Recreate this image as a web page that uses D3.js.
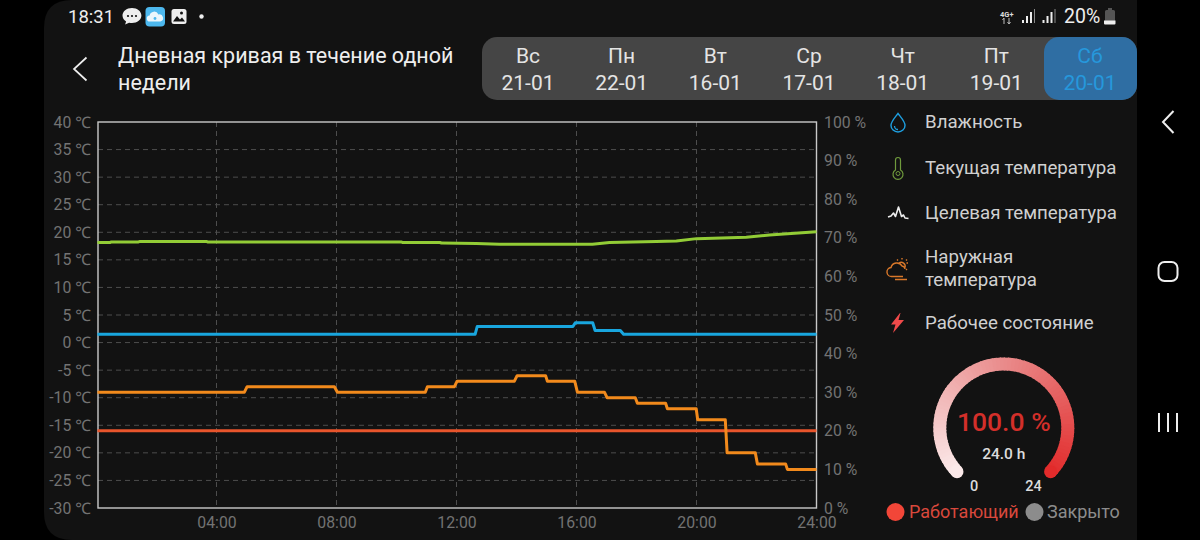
<!DOCTYPE html>
<html><head><meta charset="utf-8">
<script src="https://cdn.jsdelivr.net/npm/d3@7"></script>
<style>
html,body{margin:0;padding:0;background:#000;overflow:hidden}
svg{display:block;font-family:Roboto,sans-serif}
.tick text{font-family:Roboto,"Noto Sans",sans-serif}
</style></head><body><svg id="c" width="1200" height="540"></svg>
<script>
const tempTicks=[-30,-25,-20,-15,-10,-5,0,5,10,15,20,25,30,35,40];
const humidityTicks=[0,10,20,30,40,50,60,70,80,90,100];
const hourTicks=[4,8,12,16,20,24];
const currentHours=[0.03,0.45,0.5,1.4,1.45,3.66,3.7,10.17,10.2,11.45,11.5,12.66,13.43,16.53,17.1,18.66,19.33,20,21.66,22.43,24];
const currentTemps=[18.15,18.15,18.25,18.25,18.35,18.35,18.25,18.25,18.15,18.15,18.05,17.95,17.85,17.85,18.15,18.35,18.4,18.85,19.1,19.5,20.1];
const humidityHours=[0.03,12.62,12.69,15.88,15.96,16.54,16.62,17.46,17.57,24];
const humidityValues=[45,45,47,47,48,48,46,46,45,45];
const outdoorHours=[0.03,4.93,5.02,7.93,8.03,10.96,11.03,11.93,12.02,13.93,14.02,14.97,15.03,15.94,16.03,16.93,17.02,17.96,18.03,18.97,19.03,19.99,20.04,20.96,21.02,21.96,22.03,22.97,23.03,24];
const outdoorTemps=[-9,-9,-8,-8,-9,-9,-8,-8,-7,-7,-6,-6,-7,-7,-9,-9,-10,-10,-11,-11,-12,-12,-14,-14,-20,-20,-22,-22,-23,-23];
const targetHours=[0.03,24];
const targetTemps=[-16,-16];
const days=["Вс","Пн","Вт","Ср","Чт","Пт","Сб"];
const dates=["21-01","22-01","16-01","17-01","18-01","19-01","20-01"];
const gaugePercent=100, gaugeHours=24;

const svg=d3.select("#c");
svg.append("path").attr("fill","#121212")
  .attr("d","M1137 0V540H72Q44 540 44 512V28Q44 0 72 0Z");

const x=d3.scaleLinear().domain([0,24]).range([96.5,816.5]);
const yT=d3.scaleLinear().domain([-30,40]).range([508,122]);
const yH=d3.scaleLinear().domain([0,100]).range([508,122]);

const txt=(s,xx,yy,size,fill,anchor,w)=>svg.append("text").text(s).attr("x",xx).attr("y",yy)
  .attr("font-size",size).attr("fill",fill).attr("text-anchor",anchor||"start").attr("font-weight",w||400);
txt("18:31",68,23,18.5,"#eee");
svg.append("path").attr("fill","#eee").attr("d","M132 8c-5.5 0-9.5 3.400-9.500 7.600 0 2.500 1.400 4.600 3.600 6l-1 3 4-1.800c1 .2 1.900.3 2.900.3 5.300 0 9.400-3.300 9.400-7.500S137.300 8 132 8z");
svg.selectAll(".bd").data([128,132,136]).join("circle").attr("cx",d=>d).attr("cy",16).attr("r",1.1).attr("fill","#121212");
svg.append("rect").attr("x",145.5).attr("y",7).attr("width",19.5).attr("height",19.5).attr("rx",4).attr("fill","#4db8ee");
svg.append("path").attr("fill","#eaf6fc").attr("d","M150 21.500a3 3 0 0 1-.4-6 4.600 4.600 0 0 1 8.800-1 3.600 3.600 0 0 1 2 7Z");
svg.append("circle").attr("cx",155).attr("cy",18.5).attr("r",1.4).attr("fill","#4db8ee");
svg.append("rect").attr("x",171.5).attr("y",9).attr("width",15).attr("height",15).attr("rx",2.5).attr("fill","#eee");
svg.append("path").attr("fill","#121212").attr("d","M173 21.500l4-5.500 3 3.500 2-2 3 4Z");
svg.append("circle").attr("cx",181.5).attr("cy",13).attr("r",1.5).attr("fill","#121212");
svg.append("circle").attr("cx",201.5).attr("cy",16.5).attr("r",2.2).attr("fill","#eee");
txt("4G+",1000,16.5,7.5,"#ddd",null,700);
svg.append("path").attr("stroke","#bbb").attr("stroke-width",1).attr("fill","none").attr("d","M1004 24v-6M1002.500 20l1.500-2M1009 18v6M1007.500 22l1.500 2M1010.500 22l-1.500 2");
[[1022,3],[1026,7],[1030,11],[1034,14]].forEach((b,i)=>{
  svg.append("rect").attr("x",b[0]).attr("y",23-b[1]).attr("width",i==3?1:2).attr("height",b[1]).attr("fill",i==3?"#888":"#eee");
  svg.append("rect").attr("x",b[0]+20.5).attr("y",23-b[1]).attr("width",i==3?1:2).attr("height",b[1]).attr("fill",i==3?"#888":"#eee");
});
txt("20%",1064,23,19.5,"#eee");
svg.append("path").attr("fill","#555").attr("d","M1105 11.500q0-1.500 1.500-1.500h1.500v-2h4v2h1.500q1.500 0 1.500 1.500V24h-10Z");
svg.append("path").attr("fill","#eee").attr("d","M1104 20.500h11.500v3q0 1-1 1h-9.500q-1 0-1-1Z");

svg.append("path").attr("fill","none").attr("stroke","#eee").attr("stroke-width",1.7)
  .attr("d","M86.500 57.500L74 69l12.500 11.500");
txt("Дневная кривая в течение одной",118,63,21.5,"#eee");
txt("недели",118,90,21.5,"#eee");

svg.append("rect").attr("x",482).attr("y",37).attr("width",655).attr("height",63).attr("rx",15).attr("fill","#454545");
svg.append("rect").attr("x",1044).attr("y",37).attr("width",93).attr("height",63).attr("rx",15).attr("fill","#2f6ea3");
const tabX=d3.scalePoint().domain(days).range([528,1090]);
days.forEach((d,i)=>{
  const c=i==6?"#2698dc":"#e4e4e4", cx=tabX(d);
  txt(d,cx,63,21,c,"middle");
  txt(dates[i],cx,89.5,21,c,"middle");
});

const grid=svg.append("g").attr("stroke","#4d4d4d").attr("stroke-width",1).attr("stroke-dasharray","5 4").attr("fill","none");
grid.selectAll(".h").data(tempTicks.slice(1,-1)).join("line")
  .attr("x1",98).attr("x2",816).attr("y1",d=>yT(d)).attr("y2",d=>yT(d));
grid.selectAll(".v").data(hourTicks.slice(0,-1)).join("line")
  .attr("y1",122).attr("y2",508).attr("x1",d=>x(d)).attr("x2",d=>x(d));

const axL=d3.axisLeft(yT).tickValues(tempTicks).tickSize(0).tickPadding(7).tickFormat(d=>d+" ℃");
const axR=d3.axisRight(yH).tickValues(humidityTicks).tickSize(0).tickPadding(7).tickFormat(d=>d+" %");
const axB=d3.axisBottom(x).tickValues(hourTicks).tickSize(0).tickPadding(8.5).tickFormat(d=>String(d).padStart(2,"0")+":00");
const sty=g=>{g.select(".domain").remove();g.selectAll("text").attr("fill","#737373").attr("font-size",15.8);};
svg.append("g").attr("transform","translate(98,0)").call(axL).call(sty);
svg.append("g").attr("transform","translate(817,0)").call(axR).call(sty);
svg.append("g").attr("transform","translate(0,508)").call(axB).call(sty);
svg.append("rect").attr("x",98).attr("y",122).attr("width",718.500).attr("height",386).attr("fill","none").attr("stroke","#c9c9c9").attr("stroke-width",1.4);

const draw=(hh,vv,sc,col)=>svg.append("path").datum(hh.map((h,i)=>[h,vv[i]]))
  .attr("fill","none").attr("stroke",col).attr("stroke-width",3).attr("stroke-linejoin","round")
  .attr("d",d3.line().x(d=>x(d[0])).y(d=>sc(d[1])));
draw(targetHours,targetTemps,yT,"#e8552c");
draw(outdoorHours,outdoorTemps,yT,"#f28a1c");
draw(humidityHours,humidityValues,yH,"#19a6de");
draw(currentHours,currentTemps,yT,"#92cc36");

const legend=[["Влажность",128],["Текущая температура",174],["Целевая температура",219],["Рабочее состояние",329]];
legend.forEach(l=>txt(l[0],925,l[1],18.7,"#d0d0d0"));
txt("Наружная",925,263,18.7,"#d0d0d0");
txt("температура",925,286,18.7,"#d0d0d0");
svg.append("path").attr("fill","none").attr("stroke","#1e9fe0").attr("stroke-width",1.4)
  .attr("d","M898 113.500c-3 4-7 8-7 12a7 6.500 0 0 0 14 0c0-4-4-8-7-12z");
svg.append("path").attr("fill","none").attr("stroke","#1e9fe0").attr("stroke-width",1.3).attr("d","M894.500 126a3.500 3.500 0 0 0 3.500 3.500");
svg.append("path").attr("fill","none").attr("stroke","#6f9a3c").attr("stroke-width",1.2)
  .attr("d","M895.500 170v-10a2.500 2.500 0 0 1 5 0v10a5 5 0 1 1-5 0z");
svg.append("circle").attr("cx",898).attr("cy",173.5).attr("r",2).attr("fill","none").attr("stroke","#6f9a3c");
svg.append("path").attr("fill","none").attr("stroke","#eee").attr("stroke-width",1.6).attr("stroke-linejoin","round")
  .attr("d","M888 217l3-1 2.500-3 2 3.500 3-9.500 3 9.500 2-1.500 1.500 3 3.500.5");
const ic=svg.append("g").attr("fill","none").attr("stroke","#d9782a").attr("stroke-width",1.4);
ic.append("path").attr("d","M903 276.500h-11a4.500 4.500 0 0 1-1-9 6 6 0 0 1 11-1.500 3.500 3.500 0 0 1 3 3");
ic.append("path").attr("d","M899 263a4 4 0 0 1 6 4.500M902 258v1.500M908 263h-1.500M897 259.500l1 1M907 259.500l-1 1M907 270l-1-1M895 279.500h12");
svg.append("path").attr("fill","#f04a4a").attr("d","M900 313l-9 11.500h4.500l-2.500 8.500 11-13h-5.500l2-7z");

const gx=1003.8, gy=428, gA=-133*Math.PI/180, gB=133*Math.PI/180;
const gaugeFrac=gaugePercent/100, N=80;
const gc=d3.scaleLinear().domain([0,.5,1]).range(["#fbe9e9","#e98a8a","#e22b2b"]);
const arc=d3.arc().innerRadius(57.5).outerRadius(70.5);
const gg=svg.append("g").attr("transform",`translate(${gx},${gy})`);
gg.selectAll("path").data(d3.range(N)).join("path")
  .attr("fill",i=>gc(i/N))
  .attr("d",i=>arc({startAngle:gA+(gB-gA)*gaugeFrac*i/N,endAngle:gA+(gB-gA)*gaugeFrac*(i+1.3)/N}));
[[gA,gc(0)],[gA+(gB-gA)*gaugeFrac,gc(1)]].forEach(e=>gg.append("circle")
  .attr("cx",64*Math.sin(e[0])).attr("cy",-64*Math.cos(e[0])).attr("r",6.5).attr("fill",e[1]));
txt(gaugePercent.toFixed(1)+" %",gx,430.5,26.5,"#d32f2a","middle",500);
txt(gaugeHours.toFixed(1)+" h",gx,459,15.5,"#dcdcdc","middle",500);
txt("0",974,491,14.5,"#dcdcdc","middle",500);
txt("24",1033.5,491,14.5,"#dcdcdc","middle",500);
svg.append("circle").attr("cx",895.5).attr("cy",512).attr("r",9).attr("fill","#f24638");
txt("Работающий",909,518,18,"#d9483c");
svg.append("circle").attr("cx",1034.5).attr("cy",512).attr("r",9).attr("fill","#8c8c8c");
txt("Закрыто",1047,518,18,"#8c8c8c");

const nav=svg.append("g").attr("fill","none").attr("stroke","#eee").attr("stroke-width",2);
nav.append("path").attr("d","M1173.500 111L1163 122l10.500 11");
nav.append("rect").attr("x",1158.5).attr("y",262).attr("width",19).attr("height",19).attr("rx",6);
nav.append("path").attr("d","M1159 413v19M1168 413v19M1177 413v19");
</script></body></html>
